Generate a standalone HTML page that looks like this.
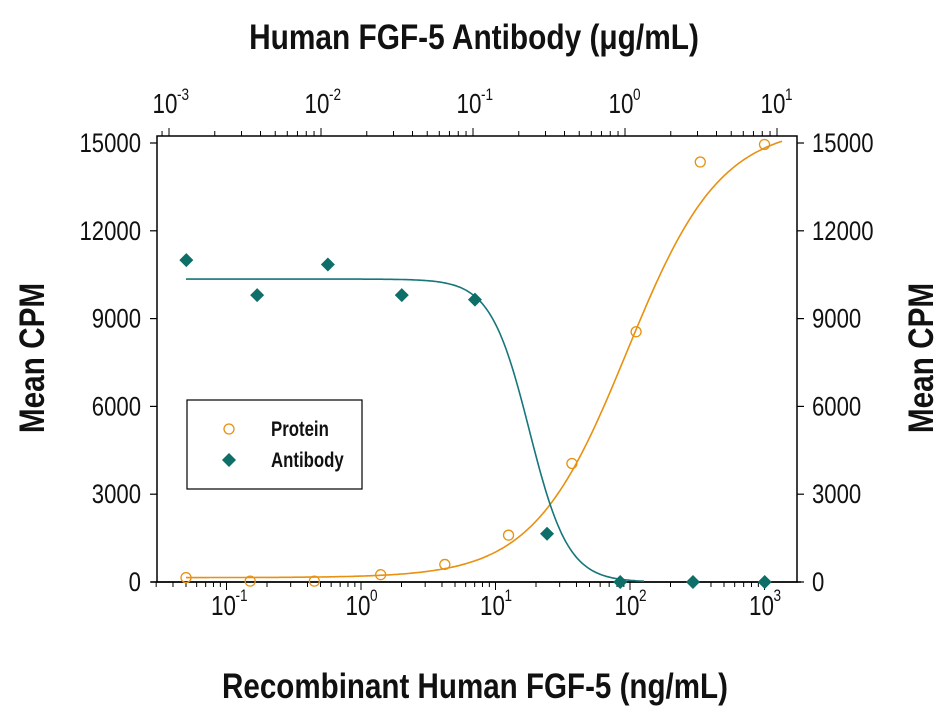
<!DOCTYPE html>
<html><head><meta charset="utf-8"><style>
body{margin:0;background:#fff}
svg{display:block}
text{font-family:"Liberation Sans",sans-serif;fill:#111}
</style></head><body>
<svg id="c" width="951" height="714" viewBox="0 0 951 714">
<g id="g"></g>
</svg>
<script>
const proteinX=[0.05,0.15,0.45,1.4,4.2,12.5,37,111,333,1000];
const proteinY=[150,30,30,250,600,1600,4050,8550,14350,14950];
const antibodyX=[0.0013,0.0038,0.0111,0.034,0.103,0.307,0.93,2.8,8.3];
const antibodyY=[11000,9800,10850,9800,9650,1650,0,0,0];
const yTicks=[0,3000,6000,9000,12000,15000];
const bottomDecades=[-1,0,1,2,3];
const topDecades=[-3,-2,-1,0,1];
const proteinFit={bottom:150,top:15600,ec50:95,hill:1.25};
const antibodyFit={bottom:0,top:10350,ic50:0.235,hill:3.4};

const NS="http://www.w3.org/2000/svg";
const g=document.getElementById('g');
function el(t,a,txt){const e=document.createElementNS(NS,t);for(const k in a)e.setAttribute(k,a[k]);if(txt!==undefined)e.textContent=txt;g.appendChild(e);return e;}
function tx(x,y,s,size,sx,anchor,bold,rot){
 const tr=`translate(${x},${y})`+(rot?` rotate(${rot})`:'')+` scale(${sx},1)`;
 const a={x:0,y:0,'font-size':size,transform:tr,'text-anchor':anchor||'start'};
 if(bold)a['font-weight']='bold';
 return el('text',a,s);
}
const L=157,R=797,T=136,B=582;
const y=v=>582-(v/15000)*(582-143);
const xb=v=>361+Math.log10(v)*134.5;
const xt=v=>625+Math.log10(v)*152;

let e;
e=el('rect',{x:L,y:T,width:R-L,height:B-T,fill:'none',stroke:'#000','stroke-width':1.5});

e=el('line',{x1:151,y1:B,x2:801,y2:B,stroke:'#000','stroke-width':1.5});


yTicks.forEach(v=>{
 el('line',{x1:150,y1:y(v),x2:L,y2:y(v),stroke:'#000','stroke-width':1.2});
 el('line',{x1:R,y1:y(v),x2:804,y2:y(v),stroke:'#000','stroke-width':1.2});
 e=tx(141,y(v)+9,String(v),27,0.82,'end');
 
 e=tx(812,y(v)+9,String(v),27,0.82,'start');
 
});
for(let d=-2;d<=3;d++){for(let m=1;m<10;m++){const px=361+(d+Math.log10(m))*134.5;if(px<151||px>801)continue;
 el('line',{x1:px,y1:B,x2:px,y2:B+(m===1?8:5),stroke:'#000','stroke-width':1});}}
bottomDecades.forEach(d=>{const px=361+d*134.5;
 e=tx(px-3,615,'10',28,0.8,'middle');
 
 tx(px+9,601,String(d),17,0.8,'start');
});
for(let d=-4;d<=1;d++){for(let m=1;m<10;m++){const px=625+(d+Math.log10(m))*152;if(px<L||px>R)continue;
 el('line',{x1:px,y1:T,x2:px,y2:T-(m===1?8:5),stroke:'#000','stroke-width':1});}}
topDecades.forEach(d=>{const px=625+d*152;
 e=tx(px-4,113,'10',28,0.8,'middle');
 
 tx(px+8,100,String(d),17,0.8,'start');
});

let p='';
for(let px=186;px<=782;px+=2){const c=Math.pow(10,(px-361)/134.5);
 const v=proteinFit.bottom+(proteinFit.top-proteinFit.bottom)/(1+Math.pow(proteinFit.ec50/c,proteinFit.hill));
 p+=(p?'L':'M')+px+','+y(Math.min(v,15400)).toFixed(1);}
e=el('path',{d:p,fill:'none',stroke:'#e8900f','stroke-width':1.6});

p='';
for(let px=186;px<=645;px+=2){const c=Math.pow(10,(px-625)/152);
 const v=antibodyFit.bottom+(antibodyFit.top-antibodyFit.bottom)/(1+Math.pow(c/antibodyFit.ic50,antibodyFit.hill));
 p+=(p?'L':'M')+px+','+y(v).toFixed(1);}
e=el('path',{d:p,fill:'none',stroke:'#16767a','stroke-width':1.6});


proteinX.forEach((v,i)=>{
 e=el('circle',{cx:xb(v),cy:y(proteinY[i]),r:5,fill:'none',stroke:'#e8900f','stroke-width':1.3});
 
});
antibodyX.forEach((v,i)=>{const cx=xt(v),cy=y(antibodyY[i]);
 e=el('polygon',{points:`${cx},${cy-7} ${cx+7},${cy} ${cx},${cy+7} ${cx-7},${cy}`,fill:'#0e6e68'});
 
});

e=el('rect',{x:187,y:400,width:175,height:89,fill:'#fff',stroke:'#000','stroke-width':1.2});

el('circle',{cx:229,cy:429,r:5,fill:'none',stroke:'#e8900f','stroke-width':1.3});
el('polygon',{points:'229,453 236,460 229,467 222,460',fill:'#0e6e68'});
e=tx(271,436,'Protein',21,0.8,'start',true);

e=tx(271,467,'Antibody',21,0.8,'start',true);


e=tx(474,49,'Human FGF-5 Antibody (μg/mL)',35,0.853,'middle',true);

e=tx(475,698,'Recombinant Human FGF-5 (ng/mL)',35,0.845,'middle',true);

e=tx(44,358,'Mean CPM',35,0.85,'middle',true,-90);

e=tx(933,358,'Mean CPM',35,0.85,'middle',true,-90);

</script>
</body></html>
